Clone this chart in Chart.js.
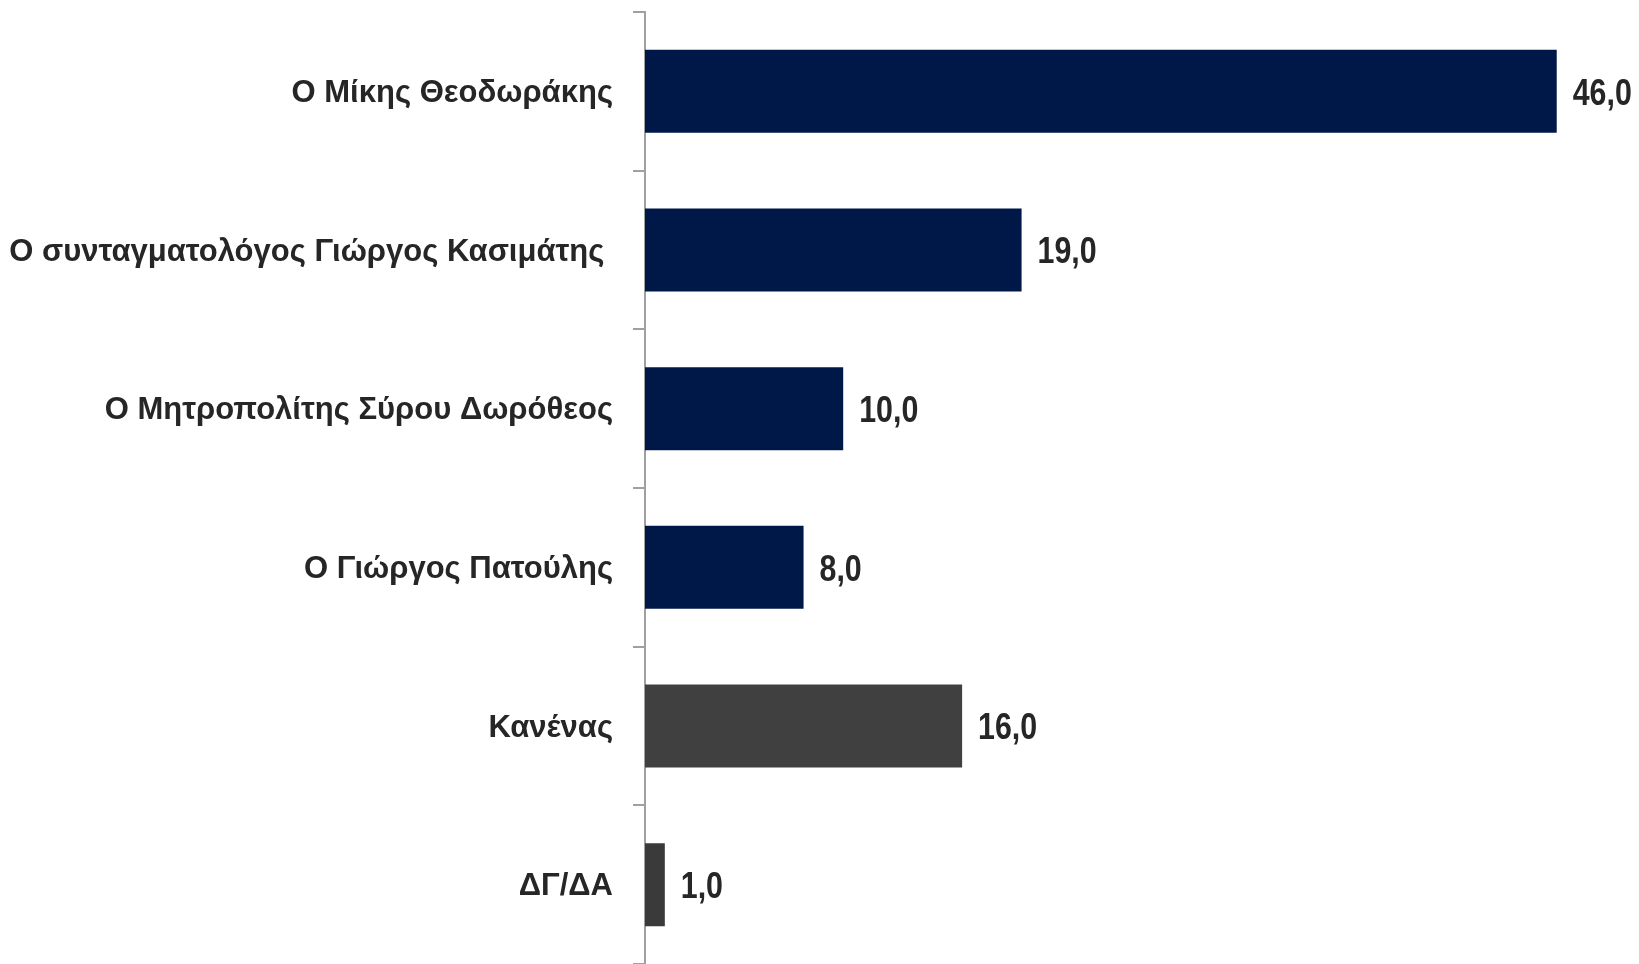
<!DOCTYPE html>
<html>
<head>
<meta charset="utf-8">
<script src="https://cdn.jsdelivr.net/npm/chart.js@4/dist/chart.umd.min.js"></script>
<style>
  html, body { margin: 0; padding: 0; background: #ffffff; }
  #wrap { width: 1639px; height: 964px; }
</style>
</head>
<body>
<div id="wrap"><canvas id="chart"></canvas></div>
<script>
const categories = [
    'Ο Μίκης Θεοδωράκης',
    'Ο συνταγματολόγος Γιώργος Κασιμάτης ',
    'Ο Μητροπολίτης Σύρου Δωρόθεος',
    'Ο Γιώργος Πατούλης',
    'Κανένας',
    'ΔΓ/ΔΑ'
];
const values = [46.0, 19.0, 10.0, 8.0, 16.0, 1.0];
const barColors = ['#001848', '#001848', '#001848', '#001848', '#404040', '#3a3a3a'];

const FONT = '"Liberation Sans Narrow", "Arial Narrow", "Liberation Sans", Arial, sans-serif';

// value labels at the end of each bar (squeezed to look like a narrow face)
const valueLabels = {
    id: 'valueLabels',
    afterDatasetsDraw(chart) {
        const ctx = chart.ctx;
        const meta = chart.getDatasetMeta(0);
        const sx = 0.82;
        ctx.save();
        ctx.font = 'bold 37px ' + FONT;
        ctx.fillStyle = '#262626';
        ctx.textAlign = 'left';
        ctx.textBaseline = 'middle';
        meta.data.forEach((bar, i) => {
            const txt = values[i].toFixed(1).replace('.', ',');
            ctx.save();
            ctx.translate(bar.x + 16, bar.y + 3);
            ctx.scale(sx, 1);
            ctx.fillText(txt, 0, 0);
            ctx.restore();
        });
        ctx.restore();
    }
};

new Chart(document.getElementById('chart').getContext('2d'), {
    type: 'bar',
    data: {
        labels: categories,
        datasets: [{
            data: values,
            backgroundColor: barColors,
            borderWidth: 0,
            barPercentage: 0.523,
            categoryPercentage: 1
        }]
    },
    options: {
        indexAxis: 'y',
        responsive: true,
        maintainAspectRatio: false,
        animation: false,
        layout: { padding: { top: 12, right: 3, bottom: 0, left: 0 } },
        plugins: {
            legend: { display: false },
            tooltip: { enabled: false }
        },
        scales: {
            x: {
                display: false,
                min: 0,
                max: 50
            },
            y: {
                border: { display: true, color: '#a0a0a0', width: 2 },
                grid: {
                    offset: true,
                    drawOnChartArea: false,
                    drawTicks: true,
                    tickLength: 12,
                    color: '#a0a0a0',
                    lineWidth: 2
                },
                ticks: {
                    color: '#262626',
                    padding: 20,
                    labelOffset: 2,
                    font: { family: FONT, size: 31, weight: 'bold' }
                },
                afterFit(scale) {
                    scale.width = 645;
                    scale.paddingTop = 0;
                    scale.paddingBottom = 0;
                }
            }
        }
    },
    plugins: [valueLabels]
});
</script>
</body>
</html>
